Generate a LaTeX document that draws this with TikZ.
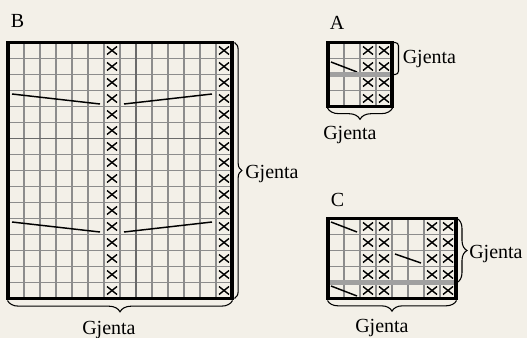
\documentclass[tikz,border=0pt]{standalone}
\usepackage{fontspec}
\setmainfont{Liberation Serif}
\usetikzlibrary{decorations.pathreplacing}
\definecolor{bg}{HTML}{F3F0E8}
\definecolor{gridc}{HTML}{8C8C8C}
\definecolor{darkgridc}{HTML}{6A6A6A}
\definecolor{repc}{HTML}{A0A0A0}
\tikzset{
  gridline/.style={draw=gridc, line width=0.8pt},
  midline/.style={draw=darkgridc, line width=1.3pt},
  border/.style={draw=black, line width=2.4pt},
  xmark/.style={draw=black, line width=1.05pt},
  slant/.style={draw=black, line width=1.1pt},
  repline/.style={draw=repc, line width=3.2pt},
  bracec/.style={draw=black, line width=0.8pt, decorate, decoration={brace, amplitude=#1}},
  bracket/.style={draw=black, line width=0.8pt, rounded corners=2.5pt},
  lbl/.style={font=\fontsize{15}{17}\selectfont, inner sep=0pt, anchor=base west},
}
\newcommand\xcell[2]{\draw[xmark] (#1+3,#2+4) -- (#1+13,#2+12) (#1+13,#2+4) -- (#1+3,#2+12);}
\begin{document}
\begin{tikzpicture}[x=0.75pt,y=-0.75pt]
\useasboundingbox (0,0) rectangle (527,338);
\fill[bg] (0,0) rectangle (527,338);

% ---------- Chart B ----------
\foreach \i in {0,...,14} \draw[gridline] (8+16*\i,42.5) -- (8+16*\i,298.5);
\foreach \j in {0,...,16} \draw[gridline] (8,42.5+16*\j) -- (232,42.5+16*\j);
\draw[midline] (136,42.5) -- (136,298.5);
\draw[midline] (8,138.5) -- (232,138.5);
\foreach \j in {0,...,15} {\xcell{104}{42.5+16*\j} \xcell{216}{42.5+16*\j}}
\draw[slant] (12,94) -- (100,104);
\draw[slant] (124,104) -- (212,94);
\draw[slant] (12,222) -- (100,232);
\draw[slant] (124,232) -- (212,222);
\draw[border] (8,42.5) rectangle (232,298.5);
\node[lbl] (labB) at (10.5,28) {B};
\coordinate (bRt) at (234.5,42.5);
\coordinate (bRb) at (234.5,298.5);
\draw[bracec=5.5pt] (bRt) -- (bRb);
\node[lbl] (gBr) at (245,179) {Gjenta};
\coordinate (bBr) at (232.5,300.5);
\coordinate (bBl) at (7.5,300.5);
\draw[bracec=8.5pt] (bBr) -- (bBl);
\node[lbl] (gBb) at (82,334.5) {Gjenta};

% ---------- Chart A ----------
\foreach \i in {0,...,4} \draw[gridline] (328+16*\i,42.5) -- (328+16*\i,106.5);
\foreach \j in {0,...,4} \draw[gridline] (328,42.5+16*\j) -- (392,42.5+16*\j);
\foreach \j in {0,...,3} {\xcell{360}{42.5+16*\j} \xcell{376}{42.5+16*\j}}
\draw[slant] (331,62) -- (357,72);
\draw[repline] (328,74.5) -- (392,74.5);
\draw[border] (328,42.5) rectangle (392,106.5);
\node[lbl] (labA) at (329.5,30) {A};
\draw[bracket] (393,42.5) -- (398.5,42.5) -- (398.5,74.5) -- (393,74.5);
\node[lbl] (gAr) at (402.5,64) {Gjenta};
\coordinate (aBr) at (392.5,108);
\coordinate (aBl) at (327.5,108);
\draw[bracec=8.5pt] (aBr) -- (aBl);
\node[lbl] (gAb) at (323,140) {Gjenta};

% ---------- Chart C ----------
\foreach \i in {0,...,8} \draw[gridline] (328+16*\i,218.5) -- (328+16*\i,298.5);
\foreach \j in {0,...,5} \draw[gridline] (328,218.5+16*\j) -- (456,218.5+16*\j);
\foreach \j in {0,...,4} {\xcell{360}{218.5+16*\j} \xcell{376}{218.5+16*\j} \xcell{424}{218.5+16*\j} \xcell{440}{218.5+16*\j}}
\draw[slant] (331,222) -- (357,232);
\draw[slant] (395,254) -- (421,263);
\draw[slant] (331,286) -- (357,296);
\draw[repline] (328,282.5) -- (456,282.5);
\draw[border] (328,218.5) rectangle (456,298.5);
\node[lbl] (labC) at (330.5,206.5) {C};
\coordinate (cRt) at (457,218.5);
\coordinate (cRb) at (457,282.5);
\draw[bracec=7.5pt] (cRt) -- (cRb);
\node[lbl] (gCr) at (469,258.5) {Gjenta};
\coordinate (cBr) at (456.5,300.5);
\coordinate (cBl) at (327.5,300.5);
\draw[bracec=8pt] (cBr) -- (cBl);
\node[lbl] (gCb) at (355,332) {Gjenta};
\end{tikzpicture}
\end{document}
